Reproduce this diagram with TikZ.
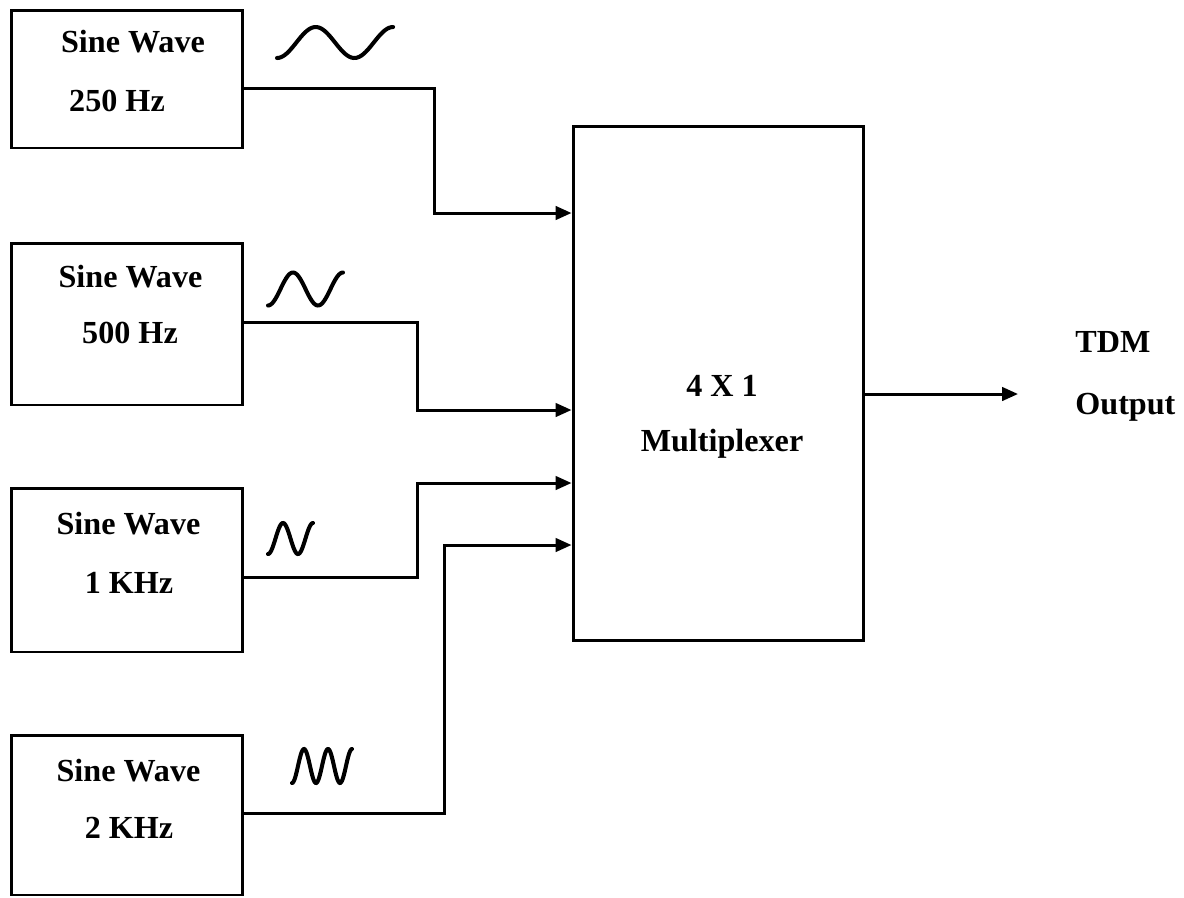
\documentclass[tikz,border=0pt]{standalone}
\usepackage{fontspec}
\setmainfont{Liberation Serif}
\usetikzlibrary{arrows.meta}

\begin{document}
\begin{tikzpicture}[
  x=0.02cm, y=-0.02cm,
  every node/.style={font=\fontsize{18.3}{22}\selectfont\bfseries},
  srcbox/.style={rectangle, draw, line width=1.7pt, minimum width=4.64cm},
  muxbox/.style={rectangle, draw, line width=1.7pt, minimum width=5.82cm,
                 minimum height=10.3cm},
  lbl/.style={anchor=base, inner sep=0pt},
  arr/.style={-{Triangle[length=3.2mm, width=2.7mm]}, line width=1.7pt},
  wave/.style={line width=2.3pt, line cap=round, smooth},
]
  \useasboundingbox (0,0) rectangle (1184,897);

  % Source boxes
  \node[srcbox, minimum height=2.76cm] (b1) at (127,79) {};
  \node[srcbox, minimum height=3.24cm] (b2) at (127,324) {};
  \node[srcbox, minimum height=3.28cm] (b3) at (127,570) {};
  \node[srcbox, minimum height=3.2cm] (b4) at (127,815) {};

  % Box texts
  \node[lbl] (t1a) at (133,52) {Sine Wave};
  \node[lbl] (t1b) at (117,111) {250 Hz};
  \node[lbl] (t2a) at (130.5,287) {Sine Wave};
  \node[lbl] (t2b) at (130,343) {500 Hz};
  \node[lbl] (t3a) at (128.5,534) {Sine Wave};
  \node[lbl] (t3b) at (129,593) {1 KHz};
  \node[lbl] (t4a) at (128.5,781) {Sine Wave};
  \node[lbl] (t4b) at (129,838) {2 KHz};

  % Multiplexer
  \node[muxbox] (mux) at (718.5,383.5) {};
  \node[lbl] (mtop) at (722,396) {4 X 1};
  \node[lbl] (mbot) at (722,451) {Multiplexer};

  % Output label
  \node[lbl, anchor=base west] (tdm) at (1075,352) {TDM};
  \node[lbl, anchor=base west] (outlbl) at (1075,414) {Output};

  % Input points
  \coordinate (in1) at (mux.west |- 0,213);
  \coordinate (in2) at (mux.west |- 0,410);
  \coordinate (in3) at (mux.west |- 0,483);
  \coordinate (in4) at (mux.west |- 0,545);
  \coordinate (out) at (1018,394);

  % Connections
  \draw[arr] (b1.east |- 0,88) -- ++(190,0) |- (in1);
  \draw[arr] (b2.east |- 0,322) -- ++(173,0) |- (in2);
  \draw[arr] (b3.east |- 0,577) -- ++(173,0) |- (in3);
  \draw[arr] (b4.east |- 0,813) -- ++(200,0) |- (in4);
  \draw[arr] (mux.east |- out) -- (out);

  % Waveform sketches
  \draw[wave] plot[domain=0:3, samples=60] ({277+38.7*\x},{42.5+15.5*cos(180*\x)});
  \draw[wave] plot[domain=0:3, samples=60] ({268+25*\x},{289+16.5*cos(180*\x)});
  \draw[wave] plot[domain=0:3, samples=60] ({268+15*\x},{538.5+15.5*cos(180*\x)});
  \draw[wave] plot[domain=0:5, samples=90] ({292+12*\x},{766+17*cos(180*\x)});
\end{tikzpicture}
\end{document}
